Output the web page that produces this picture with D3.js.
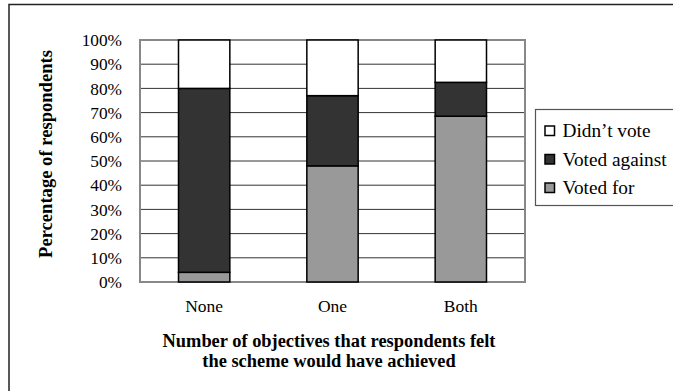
<!DOCTYPE html>
<html><head><meta charset="utf-8">
<script src="https://cdn.jsdelivr.net/npm/d3@7"></script>
<style>html,body{margin:0;padding:0;background:#fff;overflow:hidden}</style>
</head><body>
<svg id="c" width="673" height="391"></svg>
<script>
const categories = ["None", "One", "Both"];
const votedFor = [4, 48, 68.5];
const votedAgainst = [76, 29, 14];
const didntVote = [20, 23, 17.5];
const seriesNames = ["Voted for", "Voted against", "Didn\u2019t vote"];
const seriesColors = ["#999999", "#333333", "#ffffff"];
const yTicks = [0, 10, 20, 30, 40, 50, 60, 70, 80, 90, 100];

const svg = d3.select("#c");
const font = "'Liberation Serif','Times New Roman',serif";

// outer frame
svg.append("rect").attr("x", 9).attr("y", 4.5).attr("width", 700).attr("height", 400)
  .attr("fill", "none").attr("stroke", "#222").attr("stroke-width", 1.5);

const L = 140, R = 525, T = 40, B = 282;
const x = d3.scaleBand().domain(categories).range([L, R]).paddingInner(0.6).paddingOuter(0.3);
const y = d3.scaleLinear().domain([0, 100]).range([B, T]);

// gridlines
svg.append("g").selectAll("line").data(yTicks.slice(1, -1)).join("line")
  .attr("x1", L).attr("x2", R).attr("y1", d => y(d)).attr("y2", d => y(d))
  .attr("stroke", "#333").attr("stroke-width", 1);

// plot border
svg.append("rect").attr("x", L).attr("y", T).attr("width", R - L).attr("height", B - T)
  .attr("fill", "none").attr("stroke", "#888").attr("stroke-width", 2);

const rows = categories.map((c, i) => ({cat: c, "Voted for": votedFor[i], "Voted against": votedAgainst[i], "Didn\u2019t vote": didntVote[i]}));
const stack = d3.stack().keys(seriesNames)(rows);

stack.forEach((s, si) => {
  svg.append("g").selectAll("rect").data(s).join("rect")
    .attr("x", d => x(d.data.cat)).attr("width", x.bandwidth())
    .attr("y", d => y(d[1])).attr("height", d => y(d[0]) - y(d[1]))
    .attr("fill", seriesColors[si]).attr("stroke", "#000").attr("stroke-width", 1.5);
});

// y axis labels
const yAxis = d3.axisLeft(y).tickValues(yTicks).tickFormat(d => d + "%").tickSize(0).tickPadding(0);
const ga = svg.append("g").attr("transform", `translate(122,0)`).call(yAxis);
ga.select(".domain").remove();
ga.selectAll("text").attr("font-family", font).attr("font-size", 17.3).attr("fill", "#000").attr("dy", "0.33em");

// x axis labels
const xAxis = d3.axisBottom(x).tickSize(0).tickPadding(0);
const gx = svg.append("g").attr("transform", `translate(0,${B + 18})`).call(xAxis);
gx.select(".domain").remove();
gx.selectAll("text").attr("font-family", font).attr("font-size", 17.5).attr("fill", "#000");

// axis titles
svg.append("text").attr("transform", "translate(52,154) rotate(-90)")
  .attr("text-anchor", "middle").attr("font-family", font).attr("font-weight", "bold")
  .attr("font-size", 18.6).text("Percentage of respondents");
const xt = svg.append("text").attr("text-anchor", "middle").attr("font-family", font)
  .attr("font-weight", "bold").attr("font-size", 18.4);
xt.append("tspan").attr("x", 329).attr("y", 347).text("Number of objectives that respondents felt");
xt.append("tspan").attr("x", 329).attr("y", 367).text("the scheme would have achieved");

// legend
svg.append("rect").attr("x", 535.5).attr("y", 109.5).attr("width", 140).attr("height", 96)
  .attr("fill", "#fff").attr("stroke", "#555").attr("stroke-width", 1.2);
const legOrder = [2, 1, 0];
const lg = svg.append("g").selectAll("g").data(legOrder).join("g")
  .attr("transform", (d, i) => `translate(545,${126 + i * 28.5})`);
lg.append("rect").attr("width", 9.5).attr("height", 9.5)
  .attr("fill", d => seriesColors[d]).attr("stroke", "#000").attr("stroke-width", 1.5);
lg.append("text").attr("x", 17.5).attr("y", 11).attr("font-family", font).attr("font-size", 19.3)
  .text(d => seriesNames[d]);
</script>
</body></html>
